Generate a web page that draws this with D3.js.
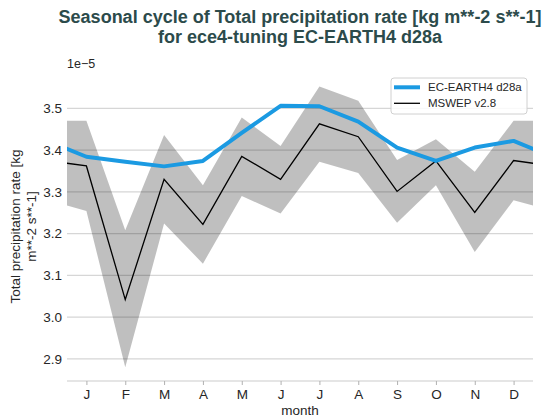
<!DOCTYPE html>
<html><head><meta charset="utf-8">
<script src="https://cdn.jsdelivr.net/npm/d3@7"></script>
<style>body{margin:0;background:#fff}svg{display:block}text{font-family:"Liberation Sans",Arial,sans-serif}</style>
</head><body><svg id="c" width="552" height="420"></svg>
<script>
const months = ["J","F","M","A","M","J","J","A","S","O","N","D"];
const modelVals = [3.384,3.372,3.361,3.374,3.441,3.506,3.505,3.468,3.406,3.374,3.406,3.422];
const obsVals   = [3.362,3.042,3.330,3.222,3.385,3.330,3.463,3.432,3.301,3.374,3.251,3.375];
const obsUpper  = [3.470,3.208,3.436,3.316,3.478,3.410,3.552,3.518,3.376,3.426,3.348,3.470];
const obsLower  = [3.254,2.880,3.224,3.128,3.290,3.248,3.372,3.345,3.226,3.316,3.156,3.280];
const yTicks = [2.9,3.0,3.1,3.2,3.3,3.4,3.5];
const seriesNames = ["EC-EARTH4 d28a","MSWEP v2.8"];
const titleLines = ["Seasonal cycle of Total precipitation rate [kg m**-2 s**-1]","for ece4-tuning EC-EARTH4 d28a"];

const svg = d3.select("#c");
const L=67,R=533,T=72,B=381;
const x = d3.scaleLinear().domain([0.5,12.5]).range([L,R]);
const y = d3.scaleLinear().domain([2.847,3.587]).range([B,T]);

// cyclic extension: index 0 = Dec, 1..12 = months, 13 = Jan
function cyc(arr){ const n=arr.length; const out=[]; for(let i=0;i<=n+1;i++){ out.push({m:i, v:arr[(i-1+n)%n]}); } return out; }

svg.append("defs").append("clipPath").attr("id","clip").append("rect").attr("x",L).attr("y",T).attr("width",R-L).attr("height",B-T);

// grid
svg.append("g").selectAll("line").data(yTicks).join("line")
  .attr("x1",L).attr("x2",R).attr("y1",d=>y(d)).attr("y2",d=>y(d))
  .attr("stroke","#d6d6d6").attr("stroke-width",1.2);
// bottom spine
svg.append("line").attr("x1",L).attr("x2",R).attr("y1",B).attr("y2",B).attr("stroke","#cccccc").attr("stroke-width",1.2);

const g = svg.append("g").attr("clip-path","url(#clip)");
const lowC = cyc(obsLower);
const band = cyc(obsUpper).map((d,i)=>({m:d.m, hi:d.v, lo:lowC[i].v}));
g.append("path").datum(band)
  .attr("d", d3.area().x(d=>x(d.m)).y0(d=>y(d.lo)).y1(d=>y(d.hi)))
  .attr("fill","#000").attr("fill-opacity",0.25);
g.append("path").datum(cyc(obsVals))
  .attr("d", d3.line().x(d=>x(d.m)).y(d=>y(d.v)))
  .attr("fill","none").attr("stroke","#000").attr("stroke-width",1.3);
g.append("path").datum(cyc(modelVals))
  .attr("d", d3.line().x(d=>x(d.m)).y(d=>y(d.v)))
  .attr("fill","none").attr("stroke","#1b9ae2").attr("stroke-width",4).attr("stroke-linejoin","round");

// x axis
const xa = svg.append("g").attr("transform",`translate(0,${B})`)
  .call(d3.axisBottom(x).tickValues(d3.range(1,13)).tickFormat(d=>months[d-1]).tickSize(4).tickPadding(4));
xa.select(".domain").remove();
xa.selectAll("line").attr("stroke","#b0b0b0");
xa.selectAll("text").attr("font-size",13.5).attr("fill","#262626").attr("font-family",'"Liberation Sans",Arial,sans-serif');

// y axis
const ya = svg.append("g").attr("transform",`translate(${L},0)`)
  .call(d3.axisLeft(y).tickValues(yTicks).tickFormat(d3.format(".1f")).tickSize(0).tickPadding(5));
ya.select(".domain").remove();
ya.selectAll("text").attr("font-size",13.5).attr("fill","#262626").attr("font-family",'"Liberation Sans",Arial,sans-serif');

svg.append("text").attr("x",L).attr("y",68).attr("font-size",12.5).attr("fill","#262626").text("1e\u22125");

// axis labels
svg.append("text").attr("x",(L+R)/2).attr("y",415).attr("text-anchor","middle").attr("font-size",13.5).attr("fill","#262626").text("month");
const yl = svg.append("text").attr("transform",`translate(20,${(T+B)/2}) rotate(-90)`).attr("text-anchor","middle").attr("font-size",13.5).attr("fill","#262626");
yl.append("tspan").attr("x",0).attr("dy",0).text("Total precipitation rate [kg");
yl.append("tspan").attr("x",0).attr("dy","1.15em").text("m**-2 s**-1]");

// title
svg.selectAll(".title").data(titleLines).join("text").attr("class","title")
  .attr("x",(L+R)/2).attr("y",(d,i)=>23+i*20).attr("text-anchor","middle")
  .attr("font-size",18).attr("font-weight","bold").attr("fill","#2c4b4b").text(d=>d);

// legend
const lg = svg.append("g");
lg.append("rect").attr("x",391).attr("y",78).attr("width",136).attr("height",36).attr("rx",3)
  .attr("fill","#fff").attr("fill-opacity",0.85).attr("stroke","#d0d0d0");
const lcol = ["#1b9ae2","#000"], lw=[4,1.3];
seriesNames.forEach((n,i)=>{
  const yy = 87.3+i*16;
  lg.append("line").attr("x1",394).attr("x2",420).attr("y1",yy).attr("y2",yy).attr("stroke",lcol[i]).attr("stroke-width",lw[i]);
  lg.append("text").attr("x",428).attr("y",yy+4).attr("font-size",11.5).attr("fill","#262626").text(n);
});
</script></body></html>
